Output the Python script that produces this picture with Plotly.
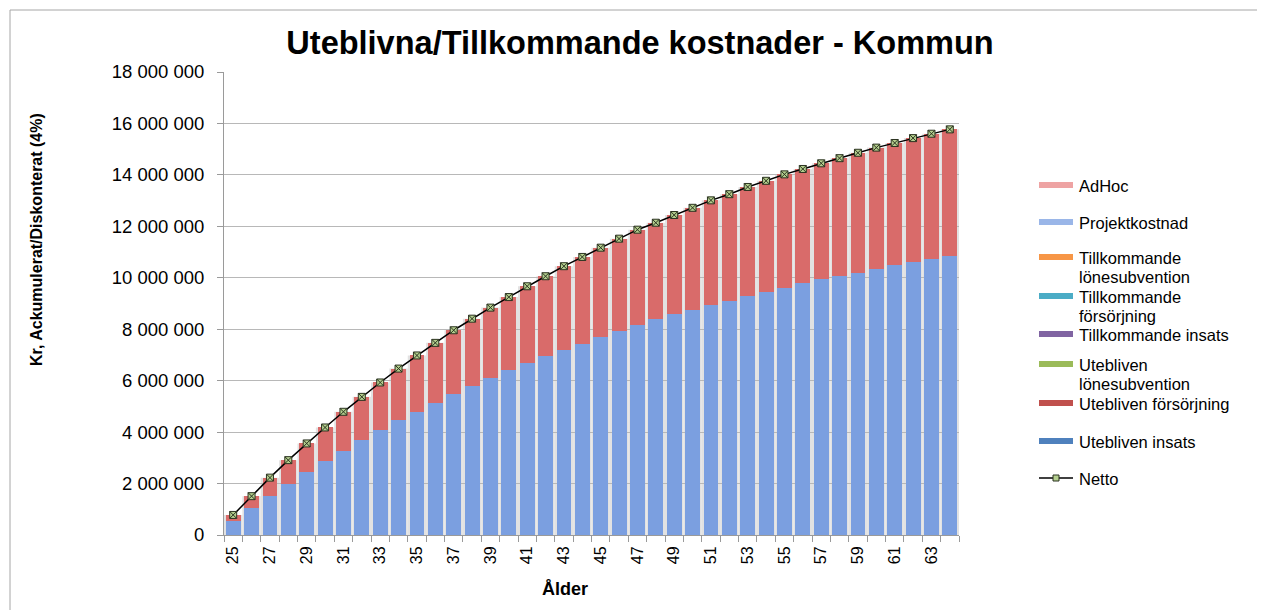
import plotly.graph_objects as go

# ---------------- data ----------------
ages = list(range(25, 65))

utebliven_insats = [540000, 1040000, 1510000, 2000000, 2440000, 2870000, 3270000, 3690000, 4100000, 4470000,
                    4800000, 5150000, 5490000, 5800000, 6100000, 6410000, 6670000, 6950000, 7210000, 7440000,
                    7700000, 7930000, 8180000, 8380000, 8580000, 8740000, 8940000, 9110000, 9280000, 9450000,
                    9620000, 9800000, 9940000, 10070000, 10200000, 10330000, 10490000, 10610000, 10720000, 10850000]

utebliven_forsorjning = [240000, 470000, 720000, 910000, 1120000, 1310000, 1520000, 1680000, 1830000, 2000000,
                         2180000, 2320000, 2470000, 2610000, 2740000, 2840000, 3000000, 3110000, 3240000, 3370000,
                         3470000, 3590000, 3690000, 3760000, 3860000, 3980000, 4070000, 4140000, 4250000, 4320000,
                         4400000, 4430000, 4510000, 4580000, 4660000, 4730000, 4750000, 4820000, 4880000, 4920000]

netto = [780000, 1510000, 2230000, 2910000, 3560000, 4180000, 4790000, 5370000, 5930000, 6470000,
         6980000, 7470000, 7960000, 8410000, 8840000, 9250000, 9670000, 10060000, 10450000, 10810000,
         11170000, 11520000, 11870000, 12140000, 12440000, 12720000, 13010000, 13250000, 13530000, 13770000,
         14020000, 14230000, 14450000, 14650000, 14860000, 15060000, 15240000, 15430000, 15600000, 15770000]

zeros = [0] * len(ages)
utebliven_lonesubvention = zeros
tillkommande_insats = zeros
tillkommande_forsorjning = zeros
tillkommande_lonesubvention = zeros
projektkostnad = zeros
adhoc = zeros

y_tickvals = [0, 2000000, 4000000, 6000000, 8000000, 10000000, 12000000, 14000000, 16000000, 18000000]
y_ticktext = ["0", "2 000 000", "4 000 000", "6 000 000", "8 000 000", "10 000 000",
              "12 000 000", "14 000 000", "16 000 000", "18 000 000"]
x_tickvals = list(range(25, 65, 2))
x_ticktext = [str(a) for a in x_tickvals]

title_text = "Uteblivna/Tillkommande kostnader - Kommun"
y_title = "Kr, Ackumulerat/Diskonterat (4%)"
x_title = "Ålder"

# series: (name, values, bar colour)
series = [
    ("Utebliven insats", utebliven_insats, "#7b9fe0"),
    ("Utebliven försörjning", utebliven_forsorjning, "#d96b6a"),
    ("Utebliven lönesubvention", utebliven_lonesubvention, "#9bbb59"),
    ("Tillkommande insats", tillkommande_insats, "#8064a2"),
    ("Tillkommande försörjning", tillkommande_forsorjning, "#4bacc6"),
    ("Tillkommande lönesubvention", tillkommande_lonesubvention, "#f79646"),
    ("Projektkostnad", projektkostnad, "#9ab6e8"),
    ("AdHoc", adhoc, "#eea3a3"),
]

# ---------------- layout geometry ----------------
# the page shows the figure with an 8px body margin; geometry below is in reference-image pixels
OFF = 8
W, H = 1265 - OFF, 610 - OFF
PL, PR, PT, PB = 224, 959, 72, 535   # plot area in reference pixels
FONT = "Arial, Liberation Sans, sans-serif"


def px(xp):
    return (xp - PL) / (PR - PL)


def py(yp):
    return (PB - yp) / (PB - PT)


fig = go.Figure()

for name, vals, col in series:
    fig.add_trace(go.Bar(
        x=ages, y=vals, name=name, showlegend=False,
        marker=dict(color=col, line=dict(width=0)),
    ))

fig.add_trace(go.Scatter(
    x=ages, y=netto, name="Netto", mode="lines+markers", showlegend=False,
    line=dict(color="#000000", width=1.5),
    marker=dict(symbol="square-x", size=7, color="#b4cf8e", line=dict(color="#2b3320", width=1)),
))

shapes = []
annotations = []

# soft grey "shadow" behind each stacked column (Excel effect visible in the gaps)
for a, v in zip(ages, netto):
    shapes.append(dict(type="rect", xref="x", yref="y", x0=a - 0.5, x1=a + 0.5, y0=0, y1=v,
                       line=dict(width=0), fillcolor="#e2e2e2", layer="below"))

# outer chart border
shapes.append(dict(type="rect", xref="paper", yref="paper",
                   x0=px(10), x1=px(1262), y0=py(620), y1=py(10),
                   line=dict(color="#a6a6a6", width=1), fillcolor="rgba(0,0,0,0)", layer="below"))

# manual legend (Excel style): (swatch colour, text lines, y of each line)
LEG_FS = 16.5
legend_items = [
    ("#eea3a3", ["AdHoc"], [185]),
    ("#9ab6e8", ["Projektkostnad"], [222]),
    ("#f79646", ["Tillkommande", "lönesubvention"], [257, 276]),
    ("#4bacc6", ["Tillkommande", "försörjning"], [296, 315]),
    ("#8064a2", ["Tillkommande insats"], [334]),
    ("#9bbb59", ["Utebliven", "lönesubvention"], [364, 383]),
    ("#c0504d", ["Utebliven försörjning"], [403]),
    ("#4f81bd", ["Utebliven insats"], [441]),
]
for col, lines, ys in legend_items:
    yc = ys[0]
    shapes.append(dict(type="rect", xref="paper", yref="paper",
                       x0=px(1039), x1=px(1073), y0=py(yc + 3), y1=py(yc - 3),
                       line=dict(width=0), fillcolor=col))
    for ln, yl in zip(lines, ys):
        annotations.append(dict(xref="paper", yref="paper", x=px(1077), y=py(yl + 1),
                                text=ln, showarrow=False, xanchor="left", yanchor="middle",
                                font=dict(family=FONT, size=LEG_FS, color="#000000")))
# Netto legend entry
yn = 478
shapes.append(dict(type="line", xref="paper", yref="paper",
                   x0=px(1039), x1=px(1073), y0=py(yn), y1=py(yn),
                   line=dict(color="#000000", width=1.5)))
shapes.append(dict(type="rect", xref="paper", yref="paper",
                   x0=px(1053), x1=px(1059), y0=py(yn + 3), y1=py(yn - 3),
                   line=dict(color="#2b3320", width=1), fillcolor="#b4cf8e"))
annotations.append(dict(xref="paper", yref="paper", x=px(1077), y=py(yn + 1),
                        text="Netto", showarrow=False, xanchor="left", yanchor="middle",
                        font=dict(family=FONT, size=LEG_FS, color="#000000")))

# axis titles
annotations.append(dict(xref="paper", yref="paper", x=px(36), y=py(240), text=f"<b>{y_title}</b>",
                        textangle=-90, showarrow=False, xanchor="center", yanchor="middle",
                        font=dict(family=FONT, size=16, color="#000000")))
annotations.append(dict(xref="paper", yref="paper", x=px(565), y=py(589), text=f"<b>{x_title}</b>",
                        showarrow=False, xanchor="center", yanchor="middle",
                        font=dict(family=FONT, size=18, color="#000000")))

fig.update_layout(
    width=W, height=H,
    margin=dict(l=PL - OFF, r=W - (PR - OFF), t=PT - OFF, b=H - (PB - OFF), autoexpand=False),
    paper_bgcolor="#ffffff", plot_bgcolor="rgba(0,0,0,0)",
    barmode="stack", bargap=0.19,
    showlegend=False,
    title=dict(text=f"<b>{title_text}</b>", x=(640 - OFF) / W, y=1 - (43 - OFF) / H,
               xref="container", yref="container", xanchor="center", yanchor="middle",
               font=dict(family=FONT, size=32.5, color="#000000")),
    font=dict(family=FONT, color="#000000"),
    shapes=shapes, annotations=annotations,
    xaxis=dict(
        range=[24.5, 64.5], tickmode="array", tickvals=x_tickvals, ticktext=x_ticktext,
        tickangle=-90, ticks="", showgrid=False, zeroline=False,
        showline=True, linecolor="#9a9a9a", linewidth=1,
        tickfont=dict(family=FONT, size=16, color="#000000"),
        ticklabelstandoff=4,
        minor=dict(tickmode="linear", tick0=24.5, dtick=1, ticks="outside", ticklen=6,
                   tickcolor="#9a9a9a", tickwidth=1, showgrid=False),
    ),
    yaxis=dict(
        range=[0, 18000000], tickmode="array", tickvals=y_tickvals, ticktext=y_ticktext,
        ticks="outside", ticklen=6, tickcolor="#9a9a9a",
        showgrid=True, gridcolor="#b8b8b8", gridwidth=1, zeroline=False,
        showline=True, linecolor="#9a9a9a", linewidth=1,
        tickfont=dict(family=FONT, size=18.5, color="#000000"),
        ticklabelstandoff=9,
    ),
)

fig.write_html("out.html")
